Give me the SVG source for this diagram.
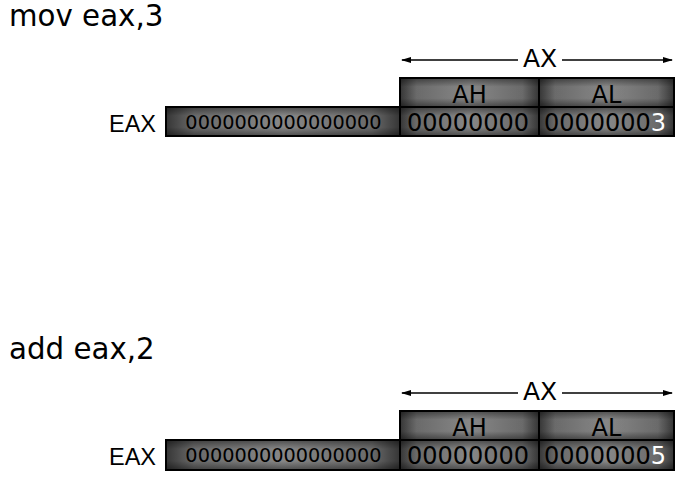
<svg xmlns="http://www.w3.org/2000/svg" width="691" height="484" viewBox="0 0 691 484">
<defs>
<linearGradient id="gh" x1="0" y1="0" x2="1" y2="0">
<stop offset="0" stop-color="#383838"/>
<stop offset="0.12" stop-color="#707070"/>
<stop offset="0.5" stop-color="#8e8e8e"/>
<stop offset="0.88" stop-color="#707070"/>
<stop offset="1" stop-color="#383838"/>
</linearGradient>
<linearGradient id="gv" x1="0" y1="0" x2="0" y2="1">
<stop offset="0" stop-color="#000" stop-opacity="0.45"/>
<stop offset="0.3" stop-color="#000" stop-opacity="0.05"/>
<stop offset="0.7" stop-color="#000" stop-opacity="0.05"/>
<stop offset="1" stop-color="#000" stop-opacity="0.45"/>
</linearGradient>
<marker id="ah" viewBox="0 0 10 10" refX="9" refY="5" markerWidth="10" markerHeight="10" markerUnits="userSpaceOnUse" orient="auto-start-reverse">
<path d="M0,2 L10,5 L0,8 z" fill="#000"/>
</marker>
<style>
.cell{fill:url(#gh);stroke:none}
.sh{fill:url(#gv);stroke:#000;stroke-width:2}
.t{font-family:"DejaVu Sans",Verdana,sans-serif;fill:#000}
.eax{font-family:"Liberation Sans",Arial,sans-serif;font-size:23.5px;fill:#000}
.hd{font-size:24px;text-anchor:middle}
.z16{font-size:19.3px}
.z8{font-size:24px}
.w{fill:#fff}
.ln{stroke:#000;stroke-width:1.6;fill:none}
.cmd{font-size:29.3px}
.ax{font-size:25px;text-anchor:middle}
</style>
</defs>
<g id="block1">
<text class="t cmd" x="9" y="26">mov eax,3</text>
<g id="ax1">
<line class="ln" x1="402" y1="60" x2="518" y2="60" marker-start="url(#ah)"/>
<line class="ln" x1="562" y1="60" x2="672" y2="60" marker-end="url(#ah)"/>
<text class="t ax" x="540" y="67">AX</text>
</g>
<g id="ah1"><rect class="cell" x="400" y="78" width="139" height="29"/><rect class="sh" x="400" y="78" width="139" height="29"/><text class="t hd" x="469.5" y="103">AH</text></g>
<g id="al1"><rect class="cell" x="539" y="78" width="135" height="29"/><rect class="sh" x="539" y="78" width="135" height="29"/><text class="t hd" x="606.5" y="103">AL</text></g>
<g id="eax1">
<text class="eax" x="109" y="132">EAX</text>
<rect class="cell" x="166" y="107" width="234" height="29"/><rect class="sh" x="166" y="107" width="234" height="29"/>
<text class="t z16" x="283.5" y="129" text-anchor="middle">0000000000000000</text>
<rect class="cell" x="400" y="107" width="139" height="29"/><rect class="sh" x="400" y="107" width="139" height="29"/>
<text class="t z8" x="468" y="131" text-anchor="middle">00000000</text>
<rect class="cell" x="539" y="107" width="135" height="29"/><rect class="sh" x="539" y="107" width="135" height="29"/>
<text class="t z8" x="605" y="131" text-anchor="middle">0000000<tspan class="w">3</tspan></text>
</g>
</g>
<g id="block2">
<text class="t cmd" x="9" y="359">add eax,2</text>
<g id="ax2">
<line class="ln" x1="402" y1="393" x2="518" y2="393" marker-start="url(#ah)"/>
<line class="ln" x1="562" y1="393" x2="672" y2="393" marker-end="url(#ah)"/>
<text class="t ax" x="540" y="400">AX</text>
</g>
<g id="ah2"><rect class="cell" x="400" y="411" width="139" height="29"/><rect class="sh" x="400" y="411" width="139" height="29"/><text class="t hd" x="469.5" y="436">AH</text></g>
<g id="al2"><rect class="cell" x="539" y="411" width="135" height="29"/><rect class="sh" x="539" y="411" width="135" height="29"/><text class="t hd" x="606.5" y="436">AL</text></g>
<g id="eax2">
<text class="eax" x="109" y="465">EAX</text>
<rect class="cell" x="166" y="440" width="234" height="30"/><rect class="sh" x="166" y="440" width="234" height="30"/>
<text class="t z16" x="283.5" y="462" text-anchor="middle">0000000000000000</text>
<rect class="cell" x="400" y="440" width="139" height="30"/><rect class="sh" x="400" y="440" width="139" height="30"/>
<text class="t z8" x="468" y="464" text-anchor="middle">00000000</text>
<rect class="cell" x="539" y="440" width="135" height="30"/><rect class="sh" x="539" y="440" width="135" height="30"/>
<text class="t z8" x="605" y="464" text-anchor="middle">0000000<tspan class="w">5</tspan></text>
</g>
</g>
<g id="connectors"></g>
</svg>
